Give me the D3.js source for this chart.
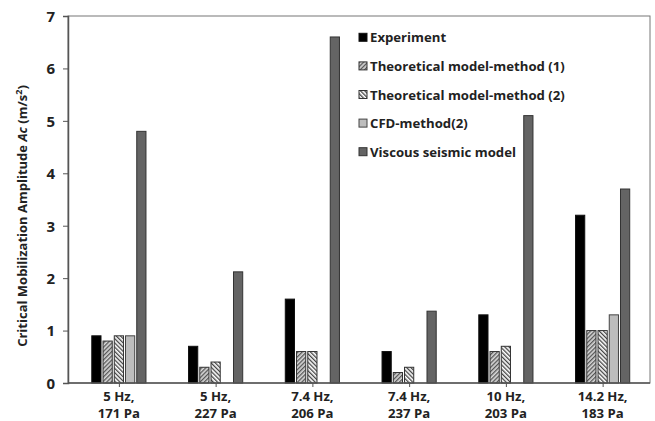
<!DOCTYPE html>
<html><head><meta charset="utf-8">
<script src="https://cdn.jsdelivr.net/npm/d3@7"></script>
<style>body{margin:0;background:#fff;} text{font-family:"Open Sans",Lato,sans-serif;font-weight:bold;fill:#222;}</style>
</head><body><svg id="c" width="655" height="421"></svg>
<script>
const categories = [["5 Hz,","171 Pa"],["5 Hz,","227 Pa"],["7.4 Hz,","206 Pa"],["7.4 Hz,","237 Pa"],["10 Hz,","203 Pa"],["14.2 Hz,","183 Pa"]];
const seriesNames = ["Experiment","Theoretical model-method (1)","Theoretical model-method (2)","CFD-method(2)","Viscous seismic model"];
const experiment = [0.9, 0.7, 1.6, 0.6, 1.3, 3.2];
const theory1 = [0.8, 0.3, 0.6, 0.2, 0.6, 1.0];
const theory2 = [0.9, 0.4, 0.6, 0.3, 0.7, 1.0];
const cfd = [0.9, null, null, null, null, 1.3];
const viscous = [4.8, 2.12, 6.6, 1.37, 5.1, 3.7];
const yTicks = [0,1,2,3,4,5,6,7];

const series = [experiment, theory1, theory2, cfd, viscous];
const svg = d3.select("#c");
const m = {l:68, r:650, t:16, b:383};
const defs = svg.append("defs");
function hatch(id, bg, line, dir){
  const p = defs.append("pattern").attr("id",id).attr("patternUnits","userSpaceOnUse")
    .attr("width",3).attr("height",3).attr("patternTransform","rotate("+(dir*45)+")");
  p.append("rect").attr("width",3).attr("height",3).attr("fill",bg);
  p.append("rect").attr("width",1.3).attr("height",3).attr("fill",line);
}
hatch("h1","#d8d8d8","#555",1);
hatch("h2","#fff","#444",-1);
const fills = ["#000","url(#h1)","url(#h2)","#bdbdbd","#646464"];
const strokes = ["#111","#333","#333","#444","#333"];

function fit(sel, target){
  const w = sel.node().getComputedTextLength();
  const fs = parseFloat(sel.style("font-size"));
  return fs * target / w;
}

const x = d3.scaleBand().domain(d3.range(categories.length)).range([70.5, 651]).paddingInner(0.44).paddingOuter(0.22);
const xs = d3.scaleBand().domain(d3.range(series.length)).range([0, x.bandwidth()]).paddingInner(0.18);
const y = d3.scaleLinear().domain([0,7]).range([m.b, m.t]);

// frame
svg.append("rect").attr("x",m.l).attr("y",m.t).attr("width",m.r-m.l).attr("height",m.b-m.t)
  .attr("fill","none").attr("stroke","#777").attr("stroke-width",1);

// bars
series.forEach((vals, si) => {
  svg.append("g").selectAll("rect").data(vals.map((v,i)=>({v,i})).filter(d=>d.v!=null)).join("rect")
    .attr("x", d => x(d.i) + xs(si))
    .attr("width", xs.bandwidth())
    .attr("y", d => y(d.v))
    .attr("height", d => y(0) - y(d.v))
    .attr("fill", fills[si]).attr("stroke", strokes[si]).attr("stroke-width",1);
});

// y axis
const ya = svg.append("g").attr("transform",`translate(${m.l},0)`)
  .call(d3.axisLeft(y).tickValues(yTicks).tickFormat(d3.format("d")).tickSize(5).tickPadding(8));
ya.select(".domain").attr("stroke","#555").attr("stroke-width",1.5);
ya.selectAll(".tick line").attr("stroke","#555");
ya.selectAll(".tick text").style("font-size","15px").attr("fill","#222").attr("dy","0.36em");

// x axis
const xa = svg.append("g").attr("transform",`translate(0,${m.b})`)
  .call(d3.axisBottom(d3.scalePoint().domain(d3.range(categories.length)).range([x(0)+x.bandwidth()/2, x(5)+x.bandwidth()/2])).tickSize(4).tickFormat(""));
xa.select(".domain").remove();
svg.append("line").attr("x1",m.l).attr("x2",m.r).attr("y1",m.b).attr("y2",m.b).attr("stroke","#555").attr("stroke-width",1.5);
xa.selectAll(".tick line").attr("stroke","#555");
const lab = svg.append("g").selectAll("text").data(categories).join("text")
  .attr("text-anchor","middle").style("font-size","13px")
  .attr("x",(d,i)=>x(i)+x.bandwidth()/2).attr("y",401);
lab.append("tspan").attr("x",(d,i)=>x(i)+x.bandwidth()/2).text(d=>d[0]);
lab.append("tspan").attr("x",(d,i)=>x(i)+x.bandwidth()/2).attr("dy",17).text(d=>d[1]);
{
  const s = fit(d3.select(lab.nodes()[5]).select("tspan"), 50);
  lab.style("font-size", s+"px");
}

// y title
const yt = svg.append("text").attr("transform","translate(27,216) rotate(-90)").attr("text-anchor","middle").style("font-size","13px");
yt.append("tspan").text("Critical Mobilization Amplitude ");
yt.append("tspan").style("font-style","italic").text("Ac");
yt.append("tspan").text(" (m/s");
yt.append("tspan").attr("dy",-5).style("font-size","9px").text("2");
yt.append("tspan").attr("dy",5).text(")");
{
  const s = fit(yt, 262);
  yt.style("font-size", s+"px");
}

// legend
const lg = svg.append("g").selectAll("g").data(seriesNames).join("g")
  .attr("transform",(d,i)=>`translate(359,${37.3 + i*28.6})`);
lg.append("rect").attr("x",0).attr("y",-4).attr("width",8).attr("height",8)
  .attr("fill",(d,i)=>fills[i]).attr("stroke",(d,i)=>strokes[i]);
const lt = lg.append("text").attr("x",11).attr("y",5).style("font-size","14px").text(d=>d);
{
  const s = fit(d3.select(lt.nodes()[1]), 195);
  lt.style("font-size", s+"px");
}
</script></body></html>
